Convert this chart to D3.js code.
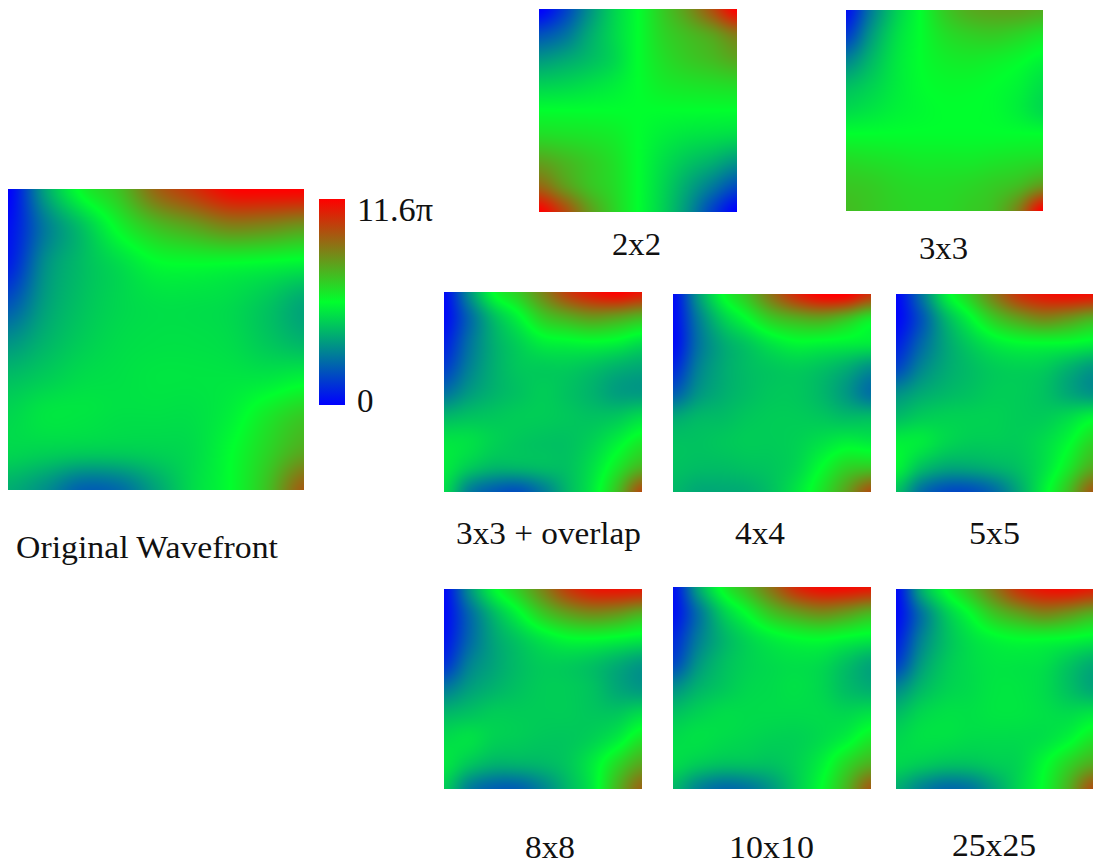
<!DOCTYPE html>
<html><head><meta charset="utf-8">
<script src="https://cdn.jsdelivr.net/npm/d3@7"></script>
<style>html,body{margin:0;padding:0;background:#fff;overflow:hidden}svg{display:block}text{font-family:"Liberation Serif",serif;fill:#111}</style>
</head><body>
<script>
// Phase as percent of the full scale (0 = 0, 100 = 11.6π), rows top to bottom.
const original = [
[0,32,52,62,80,90,99,100,100],
[3,24,38,52,62,68,74,73,70],
[6,28,37,43,49,50,49.5,48.5,47],
[16,31,38,42,44,44,43,39,33],
[28,35,40,43,44,44,43,39,35],
[37,40,43,44,45,45,45,45,47],
[42,45,45,44,44,44,47,54,60],
[42,41,40,40,41,43,49.5,58,67],
[34,28,19,21,32,43,50,62,82]];
const grid2x2 = [
[0,12,28,41,50,60,70,84,100],
[16,22,33,42,50,58,63,68,76],
[30,33,37,42,50,56,60,63,67],
[41,42,44,46.5,50,53.5,55,56,57],
[50,50,50,50,50,50,50,50,50],
[57,56,55,53.5,50,47,45,44,43],
[68,64,60,56,50,44,39,35,30],
[80,70,62,57,50,42,33,24,15],
[100,86,70,59,50,41,29,13,0]];
const grid3x3 = [
[3,24,40,50,60,66,68,68,66],
[12,30,43,50,56,59,60,58,55],
[26,36,45,50,53,54,53,51,48],
[37,41,46,49.5,51,51,50,48,44],
[43,45,47.5,49,50,50,49.5,47,43],
[50.5,50.5,50.5,50.5,50.5,50.5,50.5,50.5,50.5],
[57,56,55,54,54,54,55,56,57],
[61,60,58,57,57,58,60,63,70],
[63,61,59,58,58,60,63,75,100]];
const grid3x3overlap = [
[2,28,50,60,74,88,96,100,96],
[2,20,37,48,60,66,70,68,64],
[6,22,34,41,47,48.5,49.5,48,44],
[12,25,34,39,40,40,38,35,33],
[22,30,35,38,40,38,35,31,30],
[36,38,39,40,40,39,38,39,43],
[45,44,41,39,38,38,41,47,54],
[46,40,36,36,37,38,44,54,64],
[43,25,18,16,24,36,46,62,85]];
const grid4x4 = [
[2,30,50,62,78,92,100,100,90],
[2,24,40,50,60,65,67,62,54],
[2,22,33,39,45,48.5,48,47,46],
[8,25,33,37,39,40,38,34,28],
[18,29,34,37,39,39,36,30,22],
[33,36,37,39,40,40,39,37,37],
[38,38,39,40,40,41,44,47,46],
[38,37,37,38,39,42,50,58,60],
[36,33,33,34,38,45,55,68,84]];
const grid5x5 = [
[1,22,46,60,76,90,96,98,97],
[1,16,35,48,60,68,73,70,65],
[6,20,32,40,46,49,49.5,49,47],
[14,26,33,37,40,41,40,35,30],
[28,33,36,38,40,40,38,33,29],
[37,40,41,41,41,40,40,43,48],
[47,46,42,40,40,40,43,49,58],
[48,38,33,33,35,38,44,54,66],
[38,22,15,15,21,33,47,62,82]];
const grid8x8 = [
[2,28,48,60,74,88,95,96,95],
[2,20,36,48,60,68,72,70,65],
[4,20,32,39,45,49,49.5,48,46],
[10,25,32,37,40,40,38,34,30],
[24,31,35,38,40,40,38,33,30],
[36,38,40,40,40,40,39,39,43],
[43,44,41,40,39,39,41,46,55],
[45,39,35,35,36,39,46,57,67],
[40,25,19,19,26,36,46,64,80]];
const grid10x10 = [
[3,32,52,64,78,92,98,98,96],
[3,22,40,51,62,69,73,70,65],
[8,24,35,42,47,50,51,49,47],
[14,29,37,41,43,44,43,38,33],
[28,35,39,42,43,44,42,37,34],
[38,41,43,43,43,43,43,42,44],
[43,44,43,42,41,41,43,47,54],
[43,40,38,38,38,41,47,57,65],
[36,26,21,23,30,40,50,64,82]];
const grid25x25 = [
[2,33,50,62,76,90,96,97,94],
[2,22,39,50,61,68,73,70,65],
[6,25,37,44,48,50,50,49,47],
[13,30,39,43,45,45,44,39,34],
[27,36,41,43,45,45,43,38,33],
[37,42,44,44,45,45,44,43,45],
[42,44,44,43,43,43,44,48,55],
[42,40,38,38,40,42,49,58,66],
[34,26,21,23,32,42,51,65,84]];
const legendTicks = ["11.6π","0"];
const panelLabels = ["Original Wavefront","2x2","3x3","3x3 + overlap","4x4","5x5","8x8","10x10","25x25"];

// Layout, separate from the values.
const panels = [
 {g:original,       x:[8,304],   y:[189,490], label:panelLabels[0], lx:16,  ly:558, lw:262},
 {g:grid2x2,        x:[539,737], y:[9,212],   label:panelLabels[1], lx:612, ly:255, lw:49},
 {g:grid3x3,        x:[846,1043],y:[10,211],  label:panelLabels[2], lx:919, ly:259, lw:49},
 {g:grid3x3overlap, x:[444,642], y:[292,492], label:panelLabels[3], lx:456, ly:544, lw:185},
 {g:grid4x4,        x:[673,871], y:[294,492], label:panelLabels[4], lx:735, ly:544, lw:50},
 {g:grid5x5,        x:[896,1093],y:[294,492], label:panelLabels[5], lx:969, ly:544, lw:51},
 {g:grid8x8,        x:[444,642], y:[589,789], label:panelLabels[6], lx:525, ly:858, lw:50},
 {g:grid10x10,      x:[673,871], y:[587,789], label:panelLabels[7], lx:729, ly:858, lw:85},
 {g:grid25x25,      x:[896,1093],y:[589,789], label:panelLabels[8], lx:952, ly:856, lw:84}
];

const color = d3.scaleLinear().domain([0,50,100]).range(["#0000ff","#00ff2d","#ff0000"]).clamp(true);
const svg = d3.select("body").append("svg").attr("width",1093).attr("height",866);

function cr(p0,p1,p2,p3,t){
  return 0.5*((2*p1)+(-p0+p2)*t+(2*p0-5*p1+4*p2-p3)*t*t+(-p0+3*p1-3*p2+p3)*t*t*t);
}
function sample(g,gx,gy){
  const n=g.length-1, at=(r,c)=>g[Math.max(0,Math.min(n,r))][Math.max(0,Math.min(n,c))];
  const ix=Math.min(n-1,Math.floor(gx)), iy=Math.min(n-1,Math.floor(gy)), tx=gx-ix, ty=gy-iy;
  const rows=[-1,0,1,2].map(d=>cr(at(iy+d,ix-1),at(iy+d,ix),at(iy+d,ix+1),at(iy+d,ix+2),tx));
  return cr(rows[0],rows[1],rows[2],rows[3],ty);
}
panels.forEach(p=>{
  const w=p.x[1]-p.x[0], h=p.y[1]-p.y[0], n=p.g.length-1;
  const sx=d3.scaleLinear().domain([0,w-1]).range([0,n]), sy=d3.scaleLinear().domain([0,h-1]).range([0,n]);
  const cv=document.createElement("canvas"); cv.width=w; cv.height=h;
  const ctx=cv.getContext("2d"), img=ctx.createImageData(w,h);
  for(let j=0;j<h;j++)for(let i=0;i<w;i++){
    const c=d3.rgb(color(sample(p.g,sx(i),sy(j)))), k=(j*w+i)*4;
    img.data[k]=c.r;img.data[k+1]=c.g;img.data[k+2]=c.b;img.data[k+3]=255;
  }
  ctx.putImageData(img,0,0);
  svg.append("image").attr("x",p.x[0]).attr("y",p.y[0]).attr("width",w).attr("height",h).attr("href",cv.toDataURL());
  svg.append("text").attr("x",p.lx).attr("y",p.ly).attr("font-size",31)
    .attr("textLength",p.lw).attr("lengthAdjust","spacingAndGlyphs").text(p.label);
});

// Colour bar
const grad=svg.append("defs").append("linearGradient").attr("id","bar").attr("x1",0).attr("x2",0).attr("y1",1).attr("y2",0);
grad.selectAll("stop").data(color.domain()).join("stop").attr("offset",d=>d+"%").attr("stop-color",d=>color(d));
const barY=d3.scaleLinear().domain([0,100]).range([405,199]);
svg.append("rect").attr("x",319).attr("y",barY(100)).attr("width",26).attr("height",barY(0)-barY(100)).attr("fill","url(#bar)");
svg.append("text").attr("x",357).attr("y",221).attr("font-size",33).attr("textLength",76).attr("lengthAdjust","spacingAndGlyphs").text(legendTicks[0]);
svg.append("text").attr("x",357).attr("y",412).attr("font-size",33).text(legendTicks[1]);
</script>
</body></html>
